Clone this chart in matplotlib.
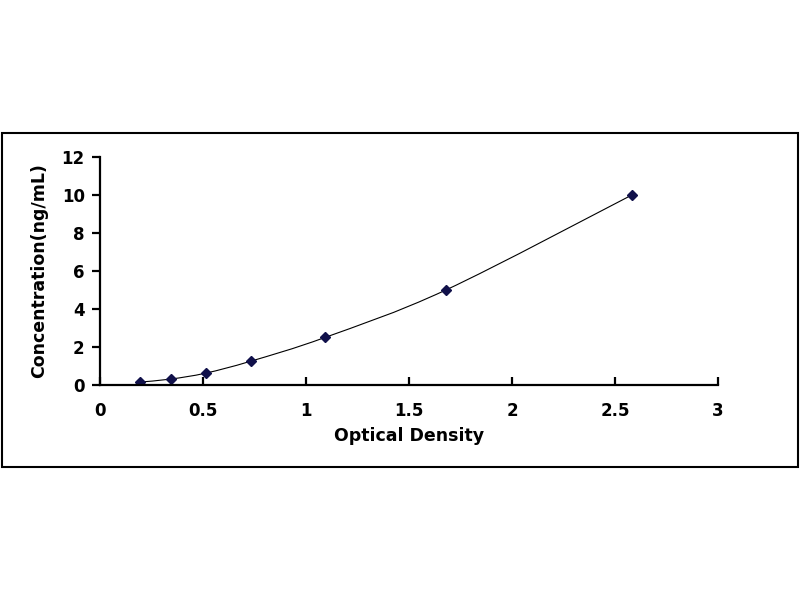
import numpy as np
import matplotlib
matplotlib.use('Agg')
import matplotlib.pyplot as plt
from matplotlib.path import Path
from matplotlib.patches import PathPatch, Rectangle

# standard curve points
optical_density = [0.194, 0.343, 0.513, 0.731, 1.092, 1.68, 2.584]
concentration = [0.156, 0.312, 0.625, 1.25, 2.5, 5, 10]

x_ticks = [0, 0.5, 1, 1.5, 2, 2.5, 3]
x_tick_labels = ['0', '0.5', '1', '1.5', '2', '2.5', '3']
y_ticks = [0, 2, 4, 6, 8, 10, 12]

plt.rcParams['font.family'] = ['DejaVu Sans']
plt.rcParams['font.weight'] = 'bold'


def smooth_path(xs, ys, tension=0.5):
    # Excel style smoothed line: cubic bezier segments through each point
    pts = np.column_stack([xs, ys])
    verts = [tuple(pts[0])]
    codes = [Path.MOVETO]
    n = len(pts)
    for i in range(n - 1):
        p0 = pts[i - 1] if i > 0 else pts[i]
        p1 = pts[i]
        p2 = pts[i + 1]
        p3 = pts[i + 2] if i + 2 < n else pts[i + 1]
        c1 = p1 + (p2 - p0) * tension / 3
        c2 = p2 - (p3 - p1) * tension / 3
        verts += [tuple(c1), tuple(c2), tuple(p2)]
        codes += [Path.CURVE4, Path.CURVE4, Path.CURVE4]
    return Path(verts, codes)


fig = plt.figure(figsize=(8, 6), dpi=100)
ax = fig.add_axes([0.125, 0.3583, 0.7725, 0.3805])

ax.add_patch(PathPatch(smooth_path(optical_density, concentration, 0.5),
                       facecolor='none', edgecolor='black', lw=0.8))
ax.plot(optical_density, concentration, linestyle='none', marker='D',
        markersize=5.5, color='#10104a')

ax.set_xlim(0, 3)
ax.set_ylim(0, 12)
ax.set_xticks(x_ticks)
ax.set_xticklabels(x_tick_labels)
ax.set_yticks(y_ticks)

for side in ['top', 'right']:
    ax.spines[side].set_visible(False)
for side in ['left', 'bottom']:
    ax.spines[side].set_linewidth(1.6)

ax.tick_params(axis='x', direction='in', length=6, width=1.6, pad=12, labelsize=12)
ax.tick_params(axis='y', direction='out', length=6, width=1.6, pad=5, labelsize=12)

ax.set_xlabel('Optical Density', fontsize=12.5, fontweight='bold', labelpad=5)
ax.set_ylabel('Concentration(ng/mL)', fontsize=12.5, fontweight='bold', labelpad=10)

# outer frame around the whole chart
fig.patches.append(Rectangle((2 / 800, 1 - 467 / 600), 796 / 800, 334 / 600,
                             transform=fig.transFigure, fill=False,
                             edgecolor='black', lw=1.5))

fig.savefig('out.png', dpi=100)
